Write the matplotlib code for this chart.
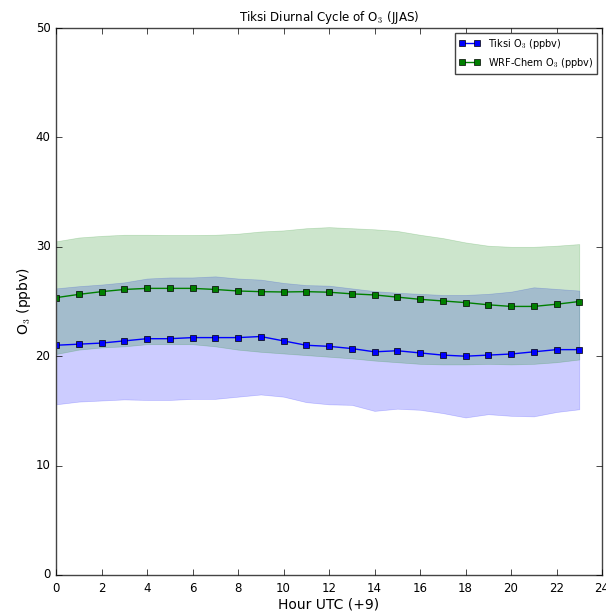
import matplotlib
matplotlib.use("Agg")
import matplotlib.pyplot as plt
import numpy as np

plt.style.use("classic")

hours = list(range(24))

# Observed ozone at Tiksi (mean and spread)
tiksi_mean = [21.0, 21.1, 21.2, 21.4, 21.6, 21.6, 21.7, 21.7, 21.7, 21.8, 21.4, 21.0,
              20.9, 20.7, 20.4, 20.5, 20.3, 20.1, 20.0, 20.1, 20.2, 20.4, 20.6, 20.6]
tiksi_low = [15.6, 15.85, 15.95, 16.05, 16.0, 16.0, 16.1, 16.1, 16.3, 16.5, 16.3, 15.8,
             15.6, 15.55, 15.0, 15.2, 15.1, 14.8, 14.4, 14.7, 14.55, 14.5, 14.9, 15.15]
tiksi_high = [26.2, 26.4, 26.55, 26.75, 27.1, 27.2, 27.2, 27.3, 27.1, 27.0, 26.7, 26.5,
              26.45, 26.2, 25.95, 25.8, 25.7, 25.6, 25.6, 25.7, 25.9, 26.3, 26.15, 26.0]

# WRF-Chem modelled ozone (mean and spread)
wrf_mean = [25.35, 25.65, 25.9, 26.1, 26.2, 26.2, 26.2, 26.1, 25.96, 25.9, 25.87, 25.9,
            25.85, 25.7, 25.6, 25.4, 25.2, 25.05, 24.9, 24.7, 24.55, 24.55, 24.75, 25.0]
wrf_low = [20.2, 20.6, 20.8, 20.9, 21.1, 21.1, 21.1, 20.9, 20.6, 20.4, 20.25, 20.1,
           19.95, 19.8, 19.6, 19.45, 19.3, 19.25, 19.25, 19.3, 19.25, 19.3, 19.45, 19.7]
wrf_high = [30.5, 30.85, 31.0, 31.1, 31.1, 31.08, 31.08, 31.1, 31.2, 31.4, 31.5, 31.7,
            31.8, 31.7, 31.6, 31.45, 31.1, 30.8, 30.4, 30.1, 30.0, 30.0, 30.1, 30.25]

fig = plt.figure(figsize=(6.06, 6.13), dpi=100, facecolor="white")
ax = fig.add_axes([56 / 606, 38 / 613, 546 / 606, 547 / 613])

ax.fill_between(hours, tiksi_low, tiksi_high, color="b", alpha=0.2, edgecolor="b", linewidth=0.5)
ax.fill_between(hours, wrf_low, wrf_high, color="g", alpha=0.2, edgecolor="g", linewidth=0.5)

ax.plot(hours, tiksi_mean, color="b", marker="s", markersize=5, linewidth=1,
        label="Tiksi O$_3$ (ppbv)")
ax.plot(hours, wrf_mean, color="g", marker="s", markersize=5, linewidth=1,
        label="WRF-Chem O$_3$ (ppbv)")

ax.set_xlim(0, 24)
ax.set_ylim(0, 50)
ax.set_xticks(np.arange(0, 25, 2))
ax.set_yticks(np.arange(0, 51, 10))
ax.tick_params(labelsize=8.5)
ax.tick_params(axis="x", pad=5)
for sp in ax.spines.values():
    sp.set_color("#444444")

ax.set_xlabel("Hour UTC (+9)", fontsize=10, labelpad=2)
ax.set_ylabel("O$_3$ (ppbv)", fontsize=10, labelpad=2)
ax.set_title("Tiksi Diurnal Cycle of O$_3$ (JJAS)", fontsize=8.6)

leg = ax.legend(loc="upper right", fontsize=7, numpoints=2, handlelength=2.2)
leg.get_frame().set_edgecolor("#444444")

fig.savefig("out.png", dpi=100, facecolor="white")
